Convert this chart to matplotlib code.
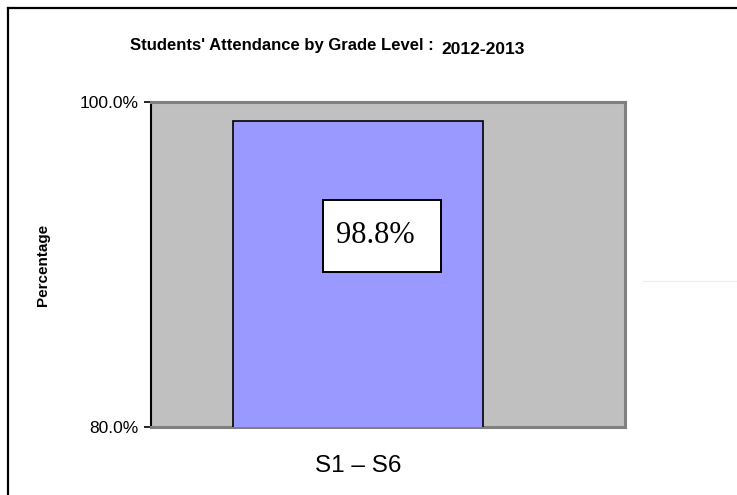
import matplotlib.pyplot as plt
from matplotlib.lines import Line2D
from matplotlib.patches import Rectangle

grades = ["S1 \u2013 S6"]
attendance = [98.8]
yticks = [80.0, 100.0]

gris = "#C0C0C0"
sombra = "#808080"
lila = "#9999FF"

fig = plt.figure(figsize=(7.37, 4.95), dpi=100)
ax = fig.add_axes([0.2049, 0.1374, 0.6431, 0.6566])
ax.set_facecolor(gris)

ax.bar(range(len(grades)), attendance, width=0.5, color=lila,
       edgecolor="black", linewidth=1.2, zorder=3)
ax.set_xlim(-0.414, 0.534)
ax.set_ylim(80, 100)

ax.set_xticks(range(len(grades)))
ax.set_xticklabels(grades, family="Liberation Sans", fontsize=17.5)
ax.tick_params(axis="x", length=0, pad=20)
ax.set_yticks(yticks)
ax.set_yticklabels(["%.1f%%" % v for v in yticks], family="Liberation Sans", fontsize=12.5)
ax.tick_params(axis="y", length=5, width=1.2, pad=4)

# bordes del area: negro a la izquierda, sombra gris en los otros lados
ax.spines["left"].set_color("black")
ax.spines["left"].set_linewidth(1.5)
for s in ["top", "right", "bottom"]:
    ax.spines[s].set_color(sombra)
    ax.spines[s].set_linewidth(2.2)

ax.set_ylabel("Percentage", family="Liberation Sans", fontsize=11,
              fontweight="bold", labelpad=21)

# etiqueta del valor en caja blanca
ax.add_patch(Rectangle((0.363, 0.477), 0.249, 0.221, transform=ax.transAxes,
                       facecolor="white", edgecolor="black", linewidth=1.4, zorder=4))
ax.text(0.4726, 0.566, "%.1f%%" % attendance[0], transform=ax.transAxes,
        ha="center", va="baseline", family="Liberation Serif", fontsize=22, zorder=5)

# titulo
fig.text(0.1764, 0.909, "Students' Attendance by Grade Level :", family="Liberation Sans",
         fontsize=12, fontweight="bold", va="center", ha="left")
fig.text(0.5984, 0.901, "2012-2013", family="Liberation Sans",
         fontsize=12.5, fontweight="bold", va="center", ha="left",
         bbox=dict(facecolor="white", edgecolor="none", pad=0.5))

# marco exterior
fig.add_artist(Line2D([0.0109, 0.0109], [0.0, 0.9838], color="black", linewidth=1.6))
fig.add_artist(Line2D([0.0109, 1.0], [0.9838, 0.9838], color="black", linewidth=1.6))
fig.add_artist(Line2D([0.872, 1.0], [0.4323, 0.4323], color="#EEEEEE", linewidth=0.8))

fig.savefig("out.png", dpi=100)
